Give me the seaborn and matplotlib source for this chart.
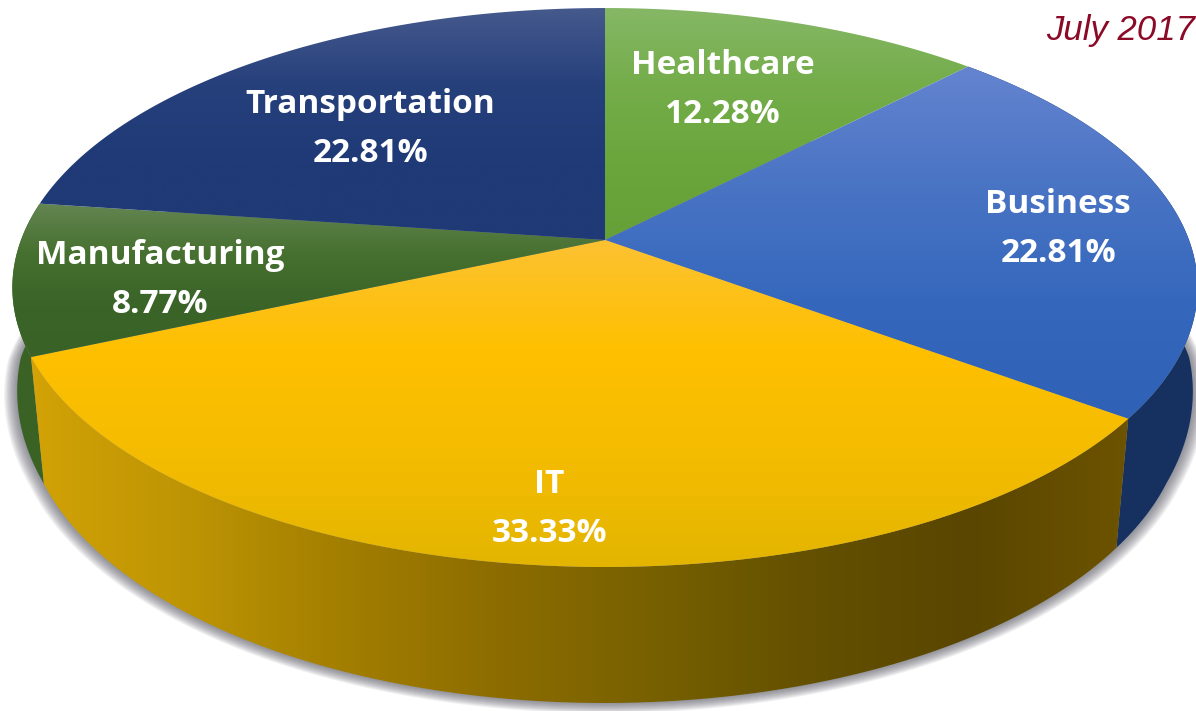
import numpy as np
import matplotlib
matplotlib.use("Agg")
import matplotlib.pyplot as plt
from matplotlib.patches import Polygon
import seaborn as sns

# --- data ---
categories = ["Healthcare", "Business", "IT", "Manufacturing", "Transportation"]
shares = [12.28, 22.81, 33.33, 8.77, 22.81]
stamp = "July 2017"

# --- styles ---
top_colors = {
    "Healthcare": ["#86b766", "#74ad4a", "#6aa63c", "#66a038"],
    "Business": ["#6484d0", "#4a74c4", "#3568bd", "#2f62b6"],
    "IT": ["#fcc232", "#ffc000", "#f4bc00", "#e3b500"],
    "Manufacturing": ["#648552", "#46702f", "#3a6428", "#386226"],
    "Transportation": ["#45598c", "#26407c", "#1f3a76", "#1f3a76"],
}
side_colors = {
    "Business": ["#16305f", "#16305f"],
    "IT": ["#d2a206", "#bd9404", "#a27e00", "#8c6c00", "#776000", "#635000", "#5a4600", "#6c5300"],
    "Manufacturing": ["#3a6225", "#365d22"],
}
label_xy = {
    "Healthcare": (723, 90),
    "Business": (1058, 229),
    "IT": (549, 509),
    "Manufacturing": (160, 280),
    "Transportation": (370, 129),
}

sns.set_theme(style="white")
plt.rcParams["font.family"] = ["Open Sans", "DejaVu Sans"]

W, H = 1196, 711
fig = plt.figure(figsize=(W / 100, H / 100), dpi=100, facecolor="white")
ax = fig.add_axes([0, 0, 1, 1])

wedges, _ = ax.pie(shares, startangle=90, counterclock=False)
spans = [(w.theta1, w.theta2) for w in wedges]
for w in wedges:
    w.remove()
ax.set_aspect("auto")
ax.set_xlim(0, W)
ax.set_ylim(H, 0)
ax.axis("off")

CX, CY, A, B, K = 605.0, 240.0, 584.0, 271.4, 0.17


def top_pt(theta):
    t = np.radians(theta)
    u, v = np.cos(t), np.sin(t)
    w = 1 + K * v
    return CX + A * u / w, CY - B * v / w


def bottom_pt(theta):
    x, y = top_pt(theta)
    v = np.sin(np.radians(theta))
    sx = 0.0226 * np.clip(-v / 0.4, 0, 1)
    drop = np.interp(y, [240, 358, 418, 567], [117, 127, 129, 136])
    return x + (CX - x) * sx, y + drop


def gradient(patch, colors, horizontal=False, z=2):
    xy = patch.get_xy()
    x0, x1, y0, y1 = xy[:, 0].min(), xy[:, 0].max(), xy[:, 1].min(), xy[:, 1].max()
    cmap = sns.blend_palette(colors, n_colors=256, as_cmap=True)
    ramp = np.linspace(0, 1, 256)
    img = ramp[None, :] if horizontal else ramp[:, None]
    im = ax.imshow(img, extent=(x0, x1, y1, y0), cmap=cmap, vmin=0, vmax=1,
                   aspect="auto", zorder=z, interpolation="bilinear")
    im.set_clip_path(patch)


# soft shadow under the base
th = np.linspace(0, 360, 720)
bx, by = bottom_pt(th)
for i in range(1, 11):
    f = 1 + 0.0022 * i
    px = CX + (bx - CX) * f
    py = 400 + (by - 400) * f + 0.35 * i
    ax.add_patch(Polygon(np.c_[px, py], closed=True, fc="#5a5a66", ec="none",
                         alpha=0.09, zorder=1))

# side walls, back to front
for name in ["Manufacturing", "Business", "IT"]:
    a, b = spans[categories.index(name)]
    th = np.linspace(a, b, 300)
    tx, ty = top_pt(th)
    lx, ly = bottom_pt(th)
    poly = Polygon(np.r_[np.c_[tx, ty], np.c_[lx, ly][::-1]], closed=True,
                   fc=side_colors[name][0], ec="none", zorder=2)
    ax.add_patch(poly)
    if len(side_colors[name]) > 2:
        poly.set_facecolor("none")
        gradient(poly, side_colors[name], horizontal=True, z=2)

# top faces
for name, (a, b) in zip(categories, spans):
    th = np.linspace(a, b, 300)
    tx, ty = top_pt(th)
    poly = Polygon(np.r_[[[CX, CY]], np.c_[tx, ty]], closed=True, fc="none",
                   ec="none", zorder=3)
    ax.add_patch(poly)
    gradient(poly, top_colors[name], z=3)

# labels
for name, share in zip(categories, shares):
    x, y = label_xy[name]
    ax.text(x, y, f"{name}\n{share:.2f}%", color="white", ha="center", va="center",
            fontsize=24, fontweight="bold", linespacing=1.63, zorder=5)

ax.text(1046, 40, stamp, color="#8b0a28", fontsize=25, style="italic",
        family="Liberation Sans", ha="left", va="baseline", zorder=5, clip_on=False)

fig.savefig("out.png", dpi=100, facecolor="white")
